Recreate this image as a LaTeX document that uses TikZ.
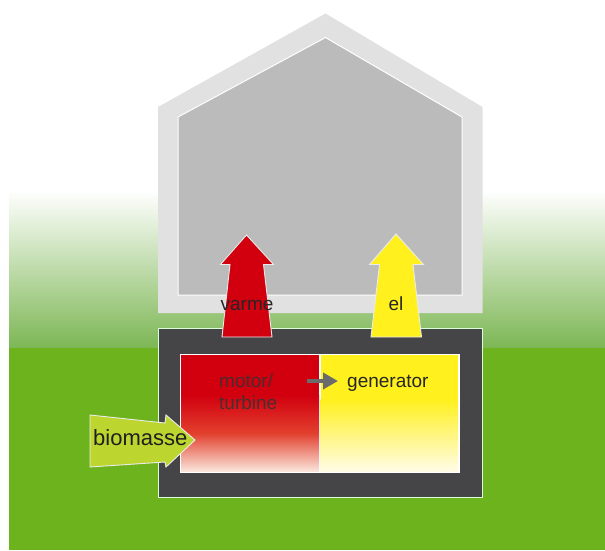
\documentclass[tikz,border=0pt]{standalone}
\usepackage{fontspec}
\setmainfont{Liberation Sans}
\usepackage{tikz}
\usetikzlibrary{arrows.meta, positioning}
\definecolor{grass}{HTML}{6DB31D}
\definecolor{grasssoft}{HTML}{7DB755}
\definecolor{wallout}{HTML}{E1E1E1}
\definecolor{wallin}{HTML}{BBBBBB}
\definecolor{plant}{HTML}{454547}
\definecolor{heat}{HTML}{D2000F}
\definecolor{heatmid}{HTML}{E2402E}
\definecolor{heatpale}{HTML}{FAE4DA}
\definecolor{power}{HTML}{FFF01E}
\definecolor{powerpale}{HTML}{FFFCE6}
\definecolor{fuel}{HTML}{BDD62F}
\definecolor{linkgray}{HTML}{6B6B6B}

\begin{document}
\begin{tikzpicture}[
    x=1pt, y=-1pt,
    blockarrow/.style={draw=white!92!black, line width=0.9pt, line join=miter},
    lbl/.style={inner sep=0pt, font=\fontsize{19}{22}\selectfont, text=black!85},
    lblbig/.style={inner sep=0pt, font=\fontsize{22}{25}\selectfont, text=black!88},
    gearrow/.style={-{Triangle[length=15pt 0 0, width=16pt 0 0]}, line width=4.5pt, color=linkgray}
]
\useasboundingbox (0,0) rectangle (605,550);

% =====================================================
% BACKGROUND (sky -> grass)
% =====================================================
\fill[white] (0,0) rectangle (605,550);
\shade[top color=white, bottom color=grasssoft] (9,190) rectangle (605,348);
\fill[grass] (9,348) rectangle (605,550);

% =====================================================
% HOUSE
% =====================================================
\fill[wallout] (158,313) -- (158,107) -- (325.5,13.5) -- (482.5,107) -- (482.5,313) -- cycle;
\filldraw[fill=wallin, draw=white, line width=1pt]
    (178,295) -- (178,117) -- (325.5,37.5) -- (462,117) -- (462,295) -- cycle;

% =====================================================
% PLANT (motor/turbine + generator)
% =====================================================
\filldraw[fill=plant, draw=green!15!white, line width=1pt] (158,328.5) rectangle (482.5,497);
\fill[white] (179.5,353.5) rectangle (459.5,472.5);
% motor / turbine part
\fill[heat] (181,355) rectangle (319,396);
\shade[top color=heat, bottom color=heatpale, middle color=heatmid] (181,395.5) rectangle (319,471);
% generator part
\fill[power] (320.5,355) rectangle (458,400);
\shade[top color=power, bottom color=powerpale] (320.5,399.5) rectangle (458,471);

% =====================================================
% ENERGY ARROWS
% =====================================================
% heat out
\filldraw[blockarrow, fill=heat]
    (222,337) -- (230,264.5) -- (220.5,264.5) -- (246.5,235) -- (273.5,264.5) -- (263.5,264.5) -- (272,337) -- cycle;
% power out
\filldraw[blockarrow, fill=power]
    (371,337) -- (379.5,264.5) -- (369.5,264.5) -- (396,234) -- (423.5,264.5) -- (413,264.5) -- (421.5,337) -- cycle;
% biomass in
\filldraw[blockarrow, fill=fuel]
    (90,415) -- (165,423) -- (166,415) -- (195,440) -- (166,467) -- (165,462) -- (90,467) -- cycle;

% =====================================================
% LABELS
% =====================================================
\node[lbl, anchor=base] (varme) at (247,310) {varme};
\node[lbl, anchor=base] (el) at (396,310) {el};
\node[lbl, anchor=base west, text=black!80, opacity=0.85, align=left] (motor) at (219,409) {motor/\\turbine};
\node[lbl, anchor=base west] (gen) at (347,387) {generator};
\node[lblbig, anchor=base west] (bio) at (93,445) {biomasse};

% motor -> generator
\coordinate (gtail) at (307,381);
\draw[gearrow, shorten >=9pt] (gtail) -- (gtail -| gen.west);

\end{tikzpicture}
\end{document}
